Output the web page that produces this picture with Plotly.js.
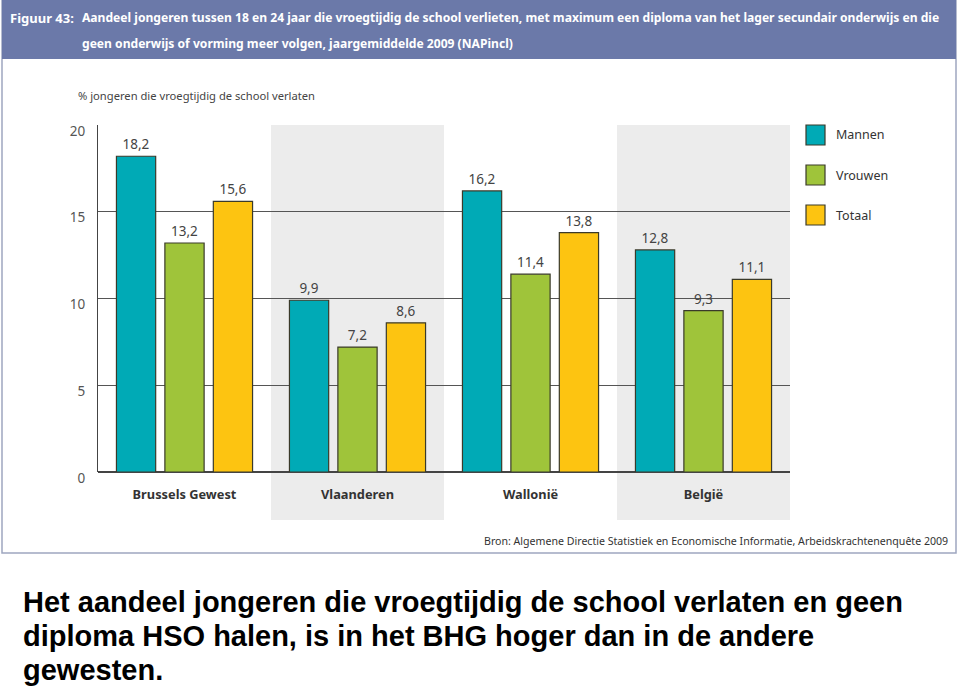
<!DOCTYPE html>
<html>
<head>
<meta charset="utf-8">
<script src="https://cdn.plot.ly/plotly-3.0.1.min.js"></script>
<style>
  html, body { margin: 0; padding: 0; background: #fff; }
  #plot { width: 960px; height: 689px; }
</style>
</head>
<body>
<div id="plot"></div>
<script>
// chart data
const regions = ['Brussels Gewest', 'Vlaanderen', 'Wallonië', 'België'];
const seriesNames = ['Mannen', 'Vrouwen', 'Totaal'];
const mannen = [18.2, 9.9, 16.2, 12.8];
const vrouwen = [13.2, 7.2, 11.4, 9.3];
const totaal = [15.6, 8.6, 13.8, 11.1];
const yTicks = [0, 5, 10, 15, 20];

const headerLines = [
    'Aandeel jongeren tussen 18 en 24 jaar die vroegtijdig de school verlieten, met maximum een diploma van het lager secundair onderwijs en die',
    'geen onderwijs of vorming meer volgen, jaargemiddelde 2009 (NAPincl)'
];
const captionLines = [
    'Het aandeel jongeren die vroegtijdig de school verlaten en geen',
    'diploma HSO halen, is in het BHG hoger dan in de andere',
    'gewesten.'
];

const colors = ['#00aab6', '#9fc43a', '#fdc411'];
const sans = '"Noto Sans", "DejaVu Sans", sans-serif';

// plot area in pixels
const W = 960, H = 689;
const L = 98, R = 790, T = 125, B = 472;
const px = X => (X - L) / (R - L);
const py = Y => (B - Y) / (B - T);

const traces = [mannen, vrouwen, totaal].map((vals, i) => ({
    type: 'bar',
    name: seriesNames[i],
    x: regions,
    y: vals,
    marker: { color: colors[i], line: { color: '#3a3a2a', width: 1.2 } },
    texttemplate: '%{y:.1f}',
    textposition: 'outside',
    textfont: { family: sans, size: 13.5, color: '#444' },
    cliponaxis: false,
    showlegend: false,
    hoverinfo: 'skip'
}));

const shapes = [];
const annotations = [];

// frame and header band
shapes.push({ type: 'rect', xref: 'paper', yref: 'paper', layer: 'below',
    x0: px(2), x1: px(956), y0: py(0), y1: py(553),
    line: { color: '#9ea6c0', width: 1.5 }, fillcolor: '#ffffff' });
shapes.push({ type: 'rect', xref: 'paper', yref: 'paper', layer: 'below',
    x0: px(2), x1: px(956), y0: py(0), y1: py(59),
    line: { width: 0 }, fillcolor: '#6b79a9' });

// grey bands behind Vlaanderen and België
[1, 3].forEach(i => {
    shapes.push({ type: 'rect', xref: 'x', yref: 'paper', layer: 'below',
        x0: i - 0.5, x1: i + 0.5, y0: py(520), y1: 1,
        line: { width: 0 }, fillcolor: '#ececec' });
});

// header text
annotations.push({ xref: 'paper', yref: 'paper', x: px(8), y: py(18), xanchor: 'left', yanchor: 'middle',
    text: '<b>Figuur 43:</b>', showarrow: false, font: { family: sans, size: 13, color: '#fff' } });
headerLines.forEach((t, i) => {
    annotations.push({ xref: 'paper', yref: 'paper', x: px(80), y: py(18 + i * 26), xanchor: 'left', yanchor: 'middle',
        text: '<b>' + t + '</b>', showarrow: false, font: { family: sans, size: 12.1, color: '#fff' } });
});

// y axis title
annotations.push({ xref: 'paper', yref: 'paper', x: px(76), y: py(95), xanchor: 'left', yanchor: 'middle',
    text: '% jongeren die vroegtijdig de school verlaten', showarrow: false,
    font: { family: sans, size: 11.2, color: '#444' } });

// legend
seriesNames.forEach((name, i) => {
    const yc = 135 + i * 40;
    shapes.push({ type: 'rect', xref: 'paper', yref: 'paper',
        x0: px(806), x1: px(825), y0: py(yc - 10), y1: py(yc + 10),
        line: { color: '#3a3a2a', width: 1.2 }, fillcolor: colors[i] });
    annotations.push({ xref: 'paper', yref: 'paper', x: px(834), y: py(yc), xanchor: 'left', yanchor: 'middle',
        text: name, showarrow: false, font: { family: sans, size: 12.5, color: '#333' } });
});

// source
annotations.push({ xref: 'paper', yref: 'paper', x: px(950), y: py(541), xanchor: 'right', yanchor: 'middle',
    text: 'Bron: Algemene Directie Statistiek en Economische Informatie, Arbeidskrachtenenquête 2009',
    showarrow: false, font: { family: sans, size: 10.6, color: '#333' } });

// caption below the figure
captionLines.forEach((t, i) => {
    annotations.push({ xref: 'paper', yref: 'paper', x: px(21), y: py(602 + i * 34), xanchor: 'left', yanchor: 'middle',
        text: '<b>' + t + '</b>', showarrow: false,
        font: { family: 'Liberation Sans, Arial, sans-serif', size: 29, color: '#000' } });
});

const layout = {
    width: W,
    height: H,
    margin: { l: L, r: W - R, t: T, b: H - B, pad: 0 },
    paper_bgcolor: '#ffffff',
    plot_bgcolor: 'rgba(0,0,0,0)',
    separators: ',.',
    barmode: 'group',
    bargap: 0.16,
    bargroupgap: 0.19,
    showlegend: false,
    xaxis: {
        type: 'category',
        range: [-0.5, 3.5],
        showline: false,
        showgrid: false,
        ticks: '',
        tickfont: { family: sans, size: 12.8, color: '#333', weight: 'bold' },
        ticklabelstandoff: 13,
        fixedrange: true
    },
    yaxis: {
        range: [0, 20],
        tickvals: yTicks,
        ticktext: yTicks.map(String),
        showgrid: true,
        gridcolor: '#555',
        gridwidth: 1,
        zeroline: true,
        zerolinecolor: '#444',
        zerolinewidth: 1.5,
        showline: true,
        linecolor: '#444',
        linewidth: 1,
        ticks: '',
        tickfont: { family: sans, size: 13.5, color: '#555' },
        ticklabelstandoff: 9,
        ticklabelshift: 6,
        fixedrange: true
    },
    shapes: shapes,
    annotations: annotations
};

Plotly.newPlot('plot', traces, layout, { displayModeBar: false, staticPlot: true });
</script>
</body>
</html>
